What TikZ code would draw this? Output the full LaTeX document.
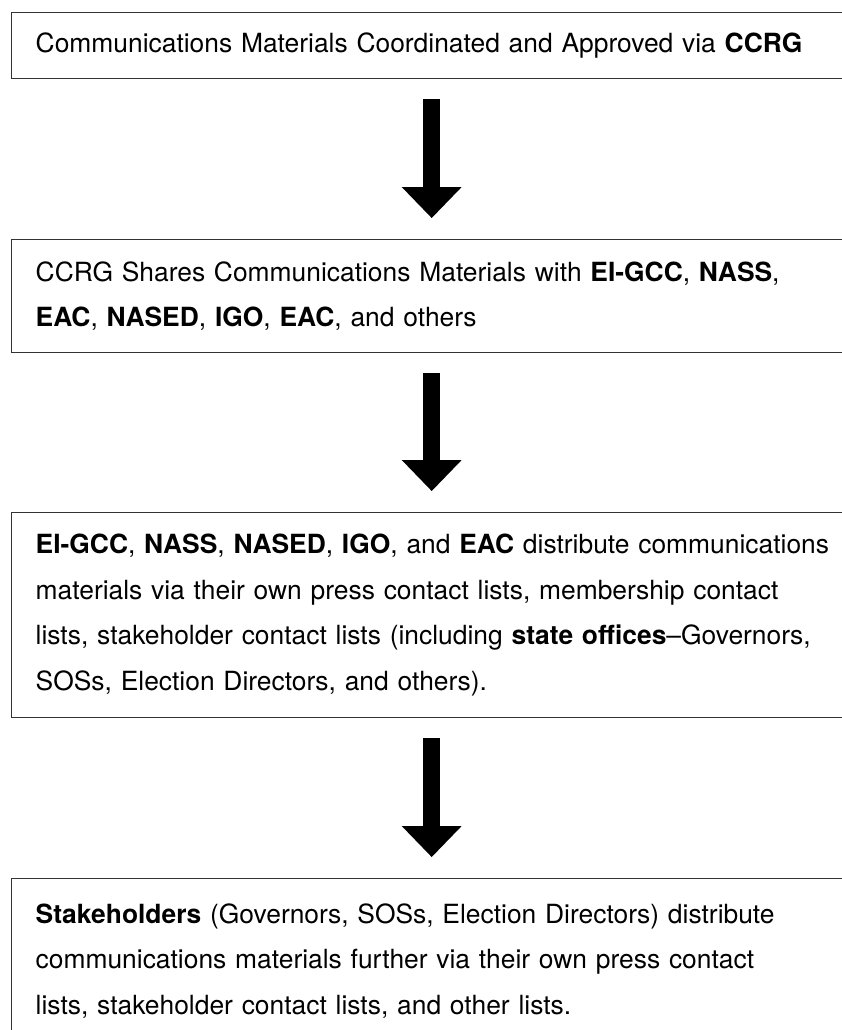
\documentclass[tikz,border=0pt]{standalone}
\usepackage{fontspec}
\setmainfont{TeX Gyre Heros}
\usetikzlibrary{arrows.meta}
\hyphenpenalty=10000
\begin{document}
\begin{tikzpicture}[x=1pt,y=1pt,
  stepbox/.style={draw=black!80, line width=1.4pt, anchor=north west,
    text width=830pt, align=left, inner xsep=24pt, inner ysep=0pt,
    font=\fontsize{26.4}{45.5}\selectfont},
  flowarrow/.style={line width=17pt, draw=black, shorten <=20pt, shorten >=21pt,
    -{Triangle[length=31pt,width=60pt,line width=0pt]}}]
\useasboundingbox (0,0) rectangle (842,-1030);
\clip (0,0) rectangle (842,-1030);

\node[stepbox, minimum height=66pt] (b1) at (11,-12)
  {Communications Materials Coordinated and Approved via \textbf{CCRG}};
\node[stepbox, minimum height=113pt] (b2) at (11,-239)
  {CCRG Shares Communications Materials with \textbf{EI-GCC}, \textbf{NASS},\\
   \textbf{EAC}, \textbf{NASED}, \textbf{IGO}, \textbf{EAC}, and others};
\node[stepbox, minimum height=205pt] (b3) at (11,-512)
  {\textbf{EI-GCC}, \textbf{NASS}, \textbf{NASED}, \textbf{IGO}, and \textbf{EAC} distribute communications\\
   materials via their own press contact lists, membership contact\\
   lists, stakeholder contact lists (including \textbf{state offices}–Governors,\\
   SOSs, Election Directors, and others).};
\node[stepbox, minimum height=164pt] (b4) at (11,-878)
  {\textbf{Stakeholders} (Governors, SOSs, Election Directors) distribute\\
   communications materials further via their own press contact\\
   lists, stakeholder contact lists, and other lists.};

\draw[flowarrow] ([xshift=-19pt]b1.south) -- ([xshift=-19pt]b2.north);
\draw[flowarrow] ([xshift=-19pt]b2.south) -- ([xshift=-19pt]b3.north);
\draw[flowarrow] ([xshift=-19pt]b3.south) -- ([xshift=-19pt]b4.north);
\end{tikzpicture}
\end{document}
